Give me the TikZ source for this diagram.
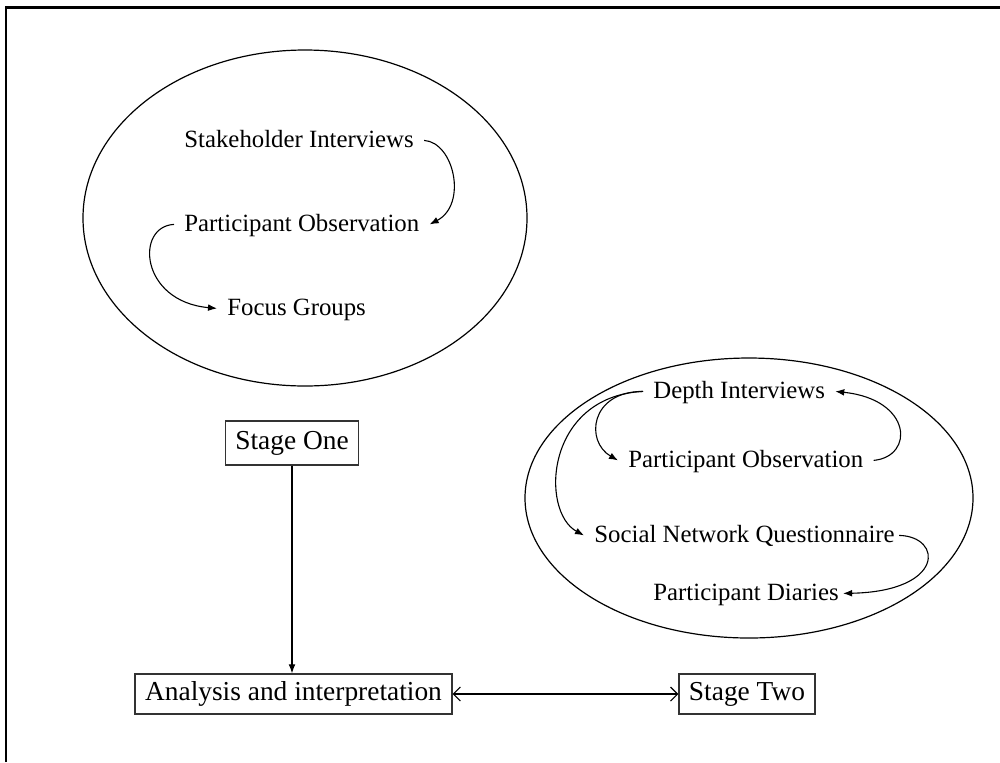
\documentclass[tikz,border=0pt]{standalone}
\usepackage{fontspec}
\setmainfont{Liberation Serif}
\usetikzlibrary{arrows.meta}
\begin{document}
\begin{tikzpicture}[x=0.5pt,y=-0.5pt,
  lbl/.style={inner xsep=5pt,inner ysep=0pt,text height=0.66em,text depth=0pt,
    font=\fontsize{12.4pt}{14pt}\selectfont},
  stagebox/.style={draw=black!80,line width=0.7pt,inner xsep=5pt,inner ysep=0pt,
    minimum height=20pt,text height=0.66em,text depth=0pt,
    font=\fontsize{13.7pt}{16pt}\selectfont},
  flow/.style={line width=0.55pt,-{Latex[length=4.5pt,width=3.4pt]}},
  link/.style={line width=0.55pt,{Straight Barb[length=3.5pt,width=7pt]}-{Straight Barb[length=3.5pt,width=7pt]}},
  ring/.style={line width=0.6pt}]
\useasboundingbox (0,0) rectangle (1000,762);

% frame
\draw[line width=1.35pt] (6,762) -- (6,7.5) -- (1000,7.5);

% stage one methods
\draw[ring] (305,218) ellipse [x radius=111pt,y radius=84pt];
\node[lbl,anchor=base west] (si)  at (174,147) {Stakeholder Interviews};
\node[lbl,anchor=base west] (po1) at (174,231) {Participant Observation};
\node[lbl,anchor=base west] (fg)  at (217,315) {Focus Groups};
\draw[flow] (si.east) .. controls +(30,2) and +(38,-20) .. (po1.east);
\draw[flow] (po1.west) .. controls +(-39,2) and +(-77,-7) .. (fg.west);

% stage two methods
\draw[ring] (749,498) ellipse [x radius=112pt,y radius=70pt];
\node[lbl,anchor=base west] (di)  at (643,398) {Depth Interviews};
\node[lbl,anchor=base west] (po2) at (618,467) {Participant Observation};
\node[lbl,anchor=base west] (snq) at (584,542) {Social Network Questionnaire};
\node[lbl,anchor=base west] (pd)  at (643,600) {Participant Diaries};
\draw[flow] (di.west) .. controls +(-53,0) and +(-33,-19) .. (po2.west);
\draw[flow] (di.west) .. controls +(-98,5) and +(-44,-24) .. (snq.west);
\draw[flow] (po2.east) .. controls +(41,-4) and +(77,8) .. (di.east);
\draw[flow] ([xshift=-3pt]snq.east) .. controls +(44,1) and +(102,-2) .. ([xshift=-3pt]pd.east);

% stages
\node[stagebox,minimum height=22pt] (s1) at (292,443) {Stage One};
\node[stagebox] (ana) at (293.5,694) {Analysis and interpretation};
\node[stagebox] (s2)  at (747,694) {Stage Two};
\draw[flow] (s1.south) -- (s1.south |- ana.north);
\draw[link] (ana.east) -- (s2.west);
\end{tikzpicture}
\end{document}
